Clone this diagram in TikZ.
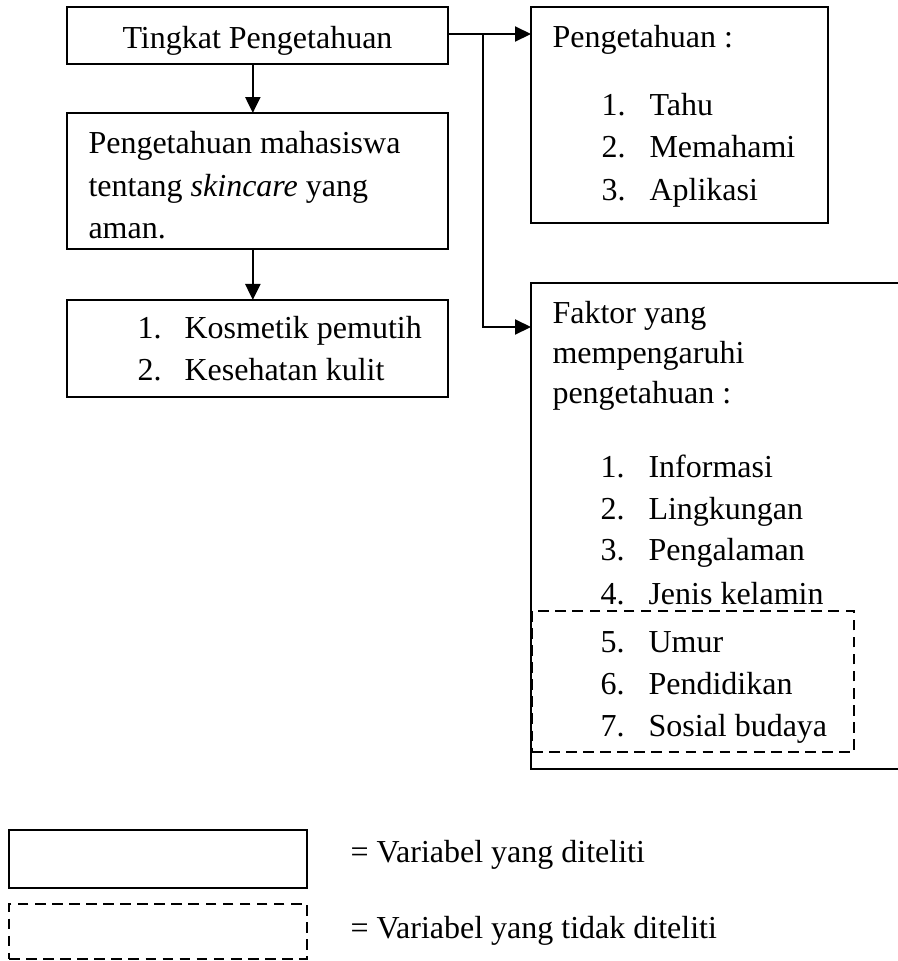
\documentclass[tikz,border=0pt]{standalone}
\usepackage{fontspec}
\setmainfont{Liberation Serif}
\usepackage{tikz}
\usetikzlibrary{positioning, arrows.meta, calc}
\tikzstyle{kotak} = [draw, line width = 0.75pt, inner sep = 0pt, outer sep = 0pt, minimum width = 142.875pt]
\tikzstyle{kotakputus} = [kotak, line width = 1pt, dash pattern = on 4pt off 2.4pt]
\tikzstyle{panah} = [-{Triangle[length = 6pt, width = 5.6pt]}, line width = 0.9pt]
\tikzstyle{teks} = [inner sep = 0pt, font = \fontsize{12}{14}\selectfont]

\begin{document}
\begin{tikzpicture}[x = 0.375pt, y = -0.375pt]
    	\useasboundingbox (0, 0) rectangle (897, 961);
    	% Kotak kiri
    	\node[kotak, minimum height = 21.375pt] (tingkat) at (257.5, 35) {};
    	\node[kotak, minimum height = 51pt] (mhs) at (257.5, 181) {};
    	\node[kotak, minimum height = 36.4pt] (indikator) at (257.5, 348.5) {};
    	% Kotak kanan
    	\node[kotak, minimum width = 111.375pt, minimum height = 81pt] (pengetahuan) at (679.5, 115) {};
    	\node[kotak, minimum width = 157.125pt, minimum height = 182.25pt] (faktor) at (740.5, 526) {};
    	\node[kotakputus, minimum width = 120.75pt, minimum height = 52.875pt] (tidakditeliti) at (693, 681.5) {};
    	% Keterangan
    	\node[kotak, minimum width = 111.75pt, minimum height = 21.75pt] (ketA) at (158, 859) {};
    	\node[kotakputus, minimum width = 111.75pt, minimum height = 20.6pt] (ketB) at (158, 931.5) {};
    	% Tulisan
    	\node[teks, anchor = base] (tTingkat) at (257.5, 48) {Tingkat Pengetahuan};
    	\node[teks, anchor = base west] (tMhs1) at (88, 153) {Pengetahuan mahasiswa};
    	\node[teks, anchor = base west] (tMhs2) at (88, 196) {tentang \textit{skincare} yang};
    	\node[teks, anchor = base west] (tMhs3) at (88, 238) {aman.};
    	\foreach \i/\isi/\y in {1/Kosmetik pemutih/338, 2/Kesehatan kulit/380}
    	{
    		\node[teks, anchor = base west] (nC\i) at (137, \y) {\i.};
    		\node[teks, anchor = base west] (tC\i) at (184, \y) {\isi};
    	}
    	\node[teks, anchor = base west] (tPeng) at (552, 47) {Pengetahuan :};
    	\foreach \i/\isi/\y in {1/Tahu/115, 2/Memahami/157, 3/Aplikasi/200}
    	{
    		\node[teks, anchor = base west] (nD\i) at (601, \y) {\i.};
    		\node[teks, anchor = base west] (tD\i) at (649, \y) {\isi};
    	}
    	\node[teks, anchor = base west] (tFak1) at (552, 323) {Faktor yang};
    	\node[teks, anchor = base west] (tFak2) at (552, 363) {mempengaruhi};
    	\node[teks, anchor = base west] (tFak3) at (552, 403) {pengetahuan :};
    	\foreach \i/\isi/\y in {1/Informasi/477, 2/Lingkungan/519, 3/Pengalaman/560, 4/Jenis kelamin/604, 5/Umur/652, 6/Pendidikan/694, 7/Sosial budaya/736}
    	{
    		\node[teks, anchor = base west] (nE\i) at (600, \y) {\i.};
    		\node[teks, anchor = base west] (tE\i) at (648, \y) {\isi};
    	}
    	\node[teks, anchor = base west] (tKetA) at (350, 862) {= Variabel yang diteliti};
    	\node[teks, anchor = base west] (tKetB) at (350, 938) {= Variabel yang tidak diteliti};
    	% Panah
    	\draw[panah] ([xshift = -1.75pt]tingkat.south) -- ([xshift = -1.75pt]mhs.north);
    	\draw[panah] ([xshift = -1.75pt]mhs.south) -- ([xshift = -1.75pt]indikator.north);
    	\coordinate (cabang) at (483, 34);
    	\coordinate (belok) at (483, 327);
    	\draw[panah] (tingkat.east |- cabang) -- (cabang -| pengetahuan.west);
    	\draw[panah] (cabang) |- (belok -| faktor.west);
    \end{tikzpicture}
\end{document}
